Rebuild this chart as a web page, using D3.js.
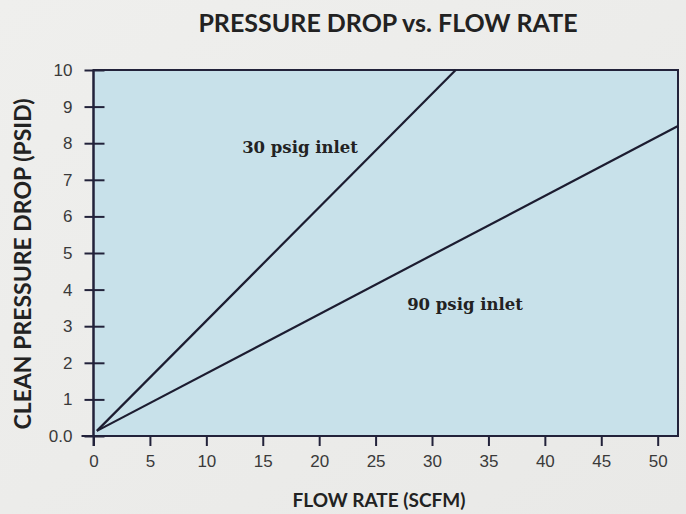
<!DOCTYPE html>
<html><head><meta charset="utf-8">
<script src="https://cdn.jsdelivr.net/npm/d3@7"></script>
<style>body{margin:0;background:#eeeeec;} svg{display:block;}</style>
</head><body>
<script>
const title = "PRESSURE DROP vs. FLOW RATE";
const xTitle = "FLOW RATE (SCFM)";
const yTitle = "CLEAN PRESSURE DROP (PSID)";
const xTicks = [0,5,10,15,20,25,30,35,40,45,50];
const yTicks = [0,1,2,3,4,5,6,7,8,9,10];
const yTickLabels = ["0.0","1","2","3","4","5","6","7","8","9","10"];
const series30Name = "30 psig inlet";
const series30X = [0.3, 32.1];
const series30Y = [0.14, 10];
const series90Name = "90 psig inlet";
const series90X = [0.3, 51.8];
const series90Y = [0.14, 8.47];

const W = 686, H = 514;
const m = {left: 93.5, right: 8, top: 70, bottom: 78};
const svg = d3.select("body").append("svg").attr("width", W).attr("height", H);
const defs = svg.append("defs");
const g0 = defs.append("linearGradient").attr("id","bg").attr("x1",0).attr("x2",1).attr("y1",0).attr("y2",1);
g0.append("stop").attr("offset","0").attr("stop-color","#efefed");
g0.append("stop").attr("offset","1").attr("stop-color","#e9e9e7");
svg.append("rect").attr("width",W).attr("height",H).attr("fill","url(#bg)");

const x = d3.scaleLinear().domain([0, 51.8]).range([m.left, W - m.right]);
const y = d3.scaleLinear().domain([0, 10]).range([H - m.bottom, m.top]);

svg.append("rect").attr("x", x(0)).attr("y", y(10)).attr("width", x(51.8)-x(0)).attr("height", y(0)-y(10))
  .attr("fill", "#c8e1ea").attr("stroke", "#22223a").attr("stroke-width", 2);

const lineColor = "#1c1c30";
const line = d3.line().x(d => x(d[0])).y(d => y(d[1]));
svg.append("path").datum(series30X.map((v,i)=>[v, series30Y[i]])).attr("d", line)
  .attr("fill","none").attr("stroke",lineColor).attr("stroke-width",2.2);
svg.append("path").datum(series90X.map((v,i)=>[v, series90Y[i]])).attr("d", line)
  .attr("fill","none").attr("stroke",lineColor).attr("stroke-width",2.2);

// x axis
const xAxis = svg.append("g").attr("transform", `translate(0,${y(0)})`)
  .call(d3.axisBottom(x).tickValues(xTicks).tickSize(10).tickPadding(9).tickFormat(d3.format("d")));
xAxis.select(".domain").attr("stroke", "#22223a").attr("stroke-width",2).attr("d", `M${x(0)-12},0H${x(51.8)}`);
xAxis.selectAll(".tick line").attr("stroke","#22223a").attr("stroke-width",2);
xAxis.selectAll(".tick text").attr("font-family","Liberation Sans, Arial, sans-serif").attr("font-size",17).attr("fill","#3a3a3a");

// y axis
const yAxis = svg.append("g").attr("transform", `translate(${x(0)},0)`)
  .call(d3.axisLeft(y).tickValues(yTicks).tickSize(0).tickPadding(21).tickFormat((d,i)=>yTickLabels[i]));
yAxis.select(".domain").attr("stroke", "#22223a").attr("stroke-width",2).attr("d", `M0,${y(10)}V${y(0)+10}`);
yAxis.selectAll(".tick line").attr("stroke","#22223a").attr("stroke-width",2).attr("x1",-9).attr("x2",11);
yAxis.selectAll(".tick text").attr("font-family","Liberation Sans, Arial, sans-serif").attr("font-size",17).attr("fill","#3a3a3a");

// titles
svg.append("text").attr("x", 388).attr("y", 32).attr("text-anchor","middle")
  .attr("font-family","Lato, Open Sans, sans-serif").attr("font-weight","bold").attr("font-size",25).attr("fill","#222")
  .text(title);
svg.append("text").attr("x", 379).attr("y", 507).attr("text-anchor","middle")
  .attr("font-family","Lato, Open Sans, sans-serif").attr("font-weight","bold").attr("font-size",19).attr("fill","#222")
  .text(xTitle);
svg.append("text").attr("transform", `translate(31,264) rotate(-90)`).attr("text-anchor","middle")
  .attr("font-family","Lato, Open Sans, sans-serif").attr("font-weight","bold").attr("font-size",23).attr("fill","#222")
  .text(yTitle);

// series labels
svg.append("text").attr("x", 300).attr("y", 153).attr("text-anchor","middle")
  .attr("font-family","DejaVu Serif, Liberation Serif, serif").attr("font-weight","bold").attr("font-size",16.5).attr("fill","#222")
  .text(series30Name);
svg.append("text").attr("x", 465).attr("y", 310).attr("text-anchor","middle")
  .attr("font-family","DejaVu Serif, Liberation Serif, serif").attr("font-weight","bold").attr("font-size",16.5).attr("fill","#222")
  .text(series90Name);
</script>
</body></html>
